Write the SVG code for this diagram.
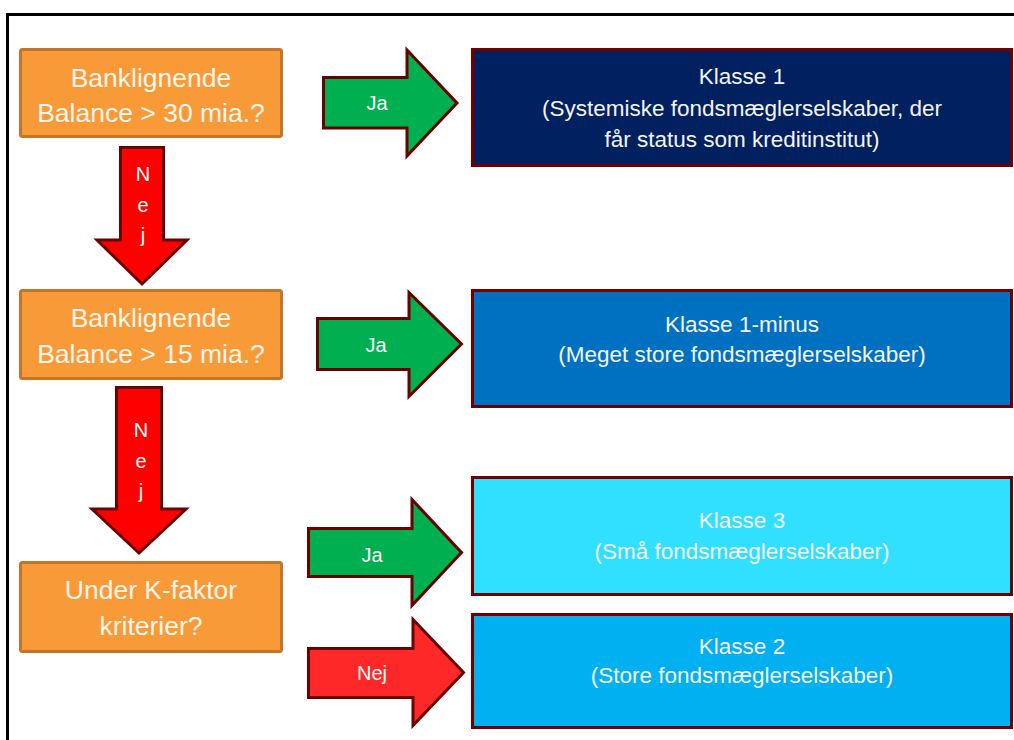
<svg xmlns="http://www.w3.org/2000/svg" width="1014" height="740" viewBox="0 0 1014 740">
<style>
.q{fill:#F99A38;stroke:#C2762C;stroke-width:3}
.qt{font-family:"Liberation Sans",Arial,sans-serif;font-size:26.5px;fill:#FFF6EC;text-anchor:middle}
.k{stroke:#700000;stroke-width:3}
.kt{font-family:"Liberation Sans",Arial,sans-serif;font-size:22.5px;fill:#F4F4F4;text-anchor:middle}
.ar{stroke:#6B0000;stroke-width:3;stroke-linejoin:miter}
.at{font-family:"Liberation Sans",Arial,sans-serif;font-size:20px;fill:#FFFFFF;text-anchor:middle}
</style>
<rect x="0" y="0" width="1014" height="740" fill="#FFFFFF"/>
<path d="M7.5 740 V14.5 H1014" fill="none" stroke="#000000" stroke-width="3"/>

<g id="q1">
<rect class="q" x="20.5" y="49.5" width="261" height="87" rx="2"/>
<text class="qt" x="151" y="87">Banklignende</text>
<text class="qt" x="151" y="122">Balance &gt; 30 mia.?</text>
</g>
<g id="q2">
<rect class="q" x="20.5" y="290.5" width="261" height="88" rx="2"/>
<text class="qt" x="151" y="327">Banklignende</text>
<text class="qt" x="151" y="363">Balance &gt; 15 mia.?</text>
</g>
<g id="q3">
<rect class="q" x="20.5" y="562.5" width="261" height="89" rx="2"/>
<text class="qt" x="151" y="599">Under K-faktor</text>
<text class="qt" x="151" y="635">kriterier?</text>
</g>

<g id="k1">
<rect class="k" x="472.5" y="49.5" width="539" height="116" fill="#002060"/>
<text class="kt" x="742" y="84">Klasse 1</text>
<text class="kt" x="742" y="116">(Systemiske fondsmæglerselskaber, der</text>
<text class="kt" x="742" y="147">får status som kreditinstitut)</text>
</g>
<g id="k1minus">
<rect class="k" x="472.5" y="290.5" width="539" height="116" fill="#0070C0"/>
<text class="kt" x="742" y="332">Klasse 1-minus</text>
<text class="kt" x="742" y="362">(Meget store fondsmæglerselskaber)</text>
</g>
<g id="k3">
<rect class="k" x="472.5" y="477.5" width="539" height="117" fill="#31DFFF"/>
<text class="kt" x="742" y="528">Klasse 3</text>
<text class="kt" x="742" y="559">(Små fondsmæglerselskaber)</text>
</g>
<g id="k2">
<rect class="k" x="472.5" y="614.5" width="539" height="113" fill="#00B0F0"/>
<text class="kt" x="742" y="654">Klasse 2</text>
<text class="kt" x="742" y="683">(Store fondsmæglerselskaber)</text>
</g>

<g id="connectors">
<g id="ja1">
<polygon class="ar" fill="#00B050" points="323.5,77.5 407,77.5 407,50 457,103 407,156 407,128 323.5,128"/>
<text class="at" x="377" y="110">Ja</text>
</g>
<g id="ja2">
<polygon class="ar" fill="#00B050" points="317.5,318.5 409,318.5 409,292.5 461.5,344 409,396.5 409,369.5 317.5,369.5"/>
<text class="at" x="376" y="352">Ja</text>
</g>
<g id="ja3">
<polygon class="ar" fill="#00B050" points="308.5,528.5 412,528.5 412,499.5 461.5,552.5 412,605.5 412,576.5 308.5,576.5"/>
<text class="at" x="372" y="562">Ja</text>
</g>
<g id="nej3">
<polygon class="ar" fill="#FF2828" points="308.5,648.5 413,648.5 413,619.5 463.5,672.5 413,725.5 413,697.5 308.5,697.5"/>
<text class="at" x="372" y="680">Nej</text>
</g>
<g id="nej1">
<polygon class="ar" fill="#FF0000" points="120.5,147.5 163.5,147.5 163.5,240 187,240 142,284 97,240 120.5,240"/>
<text class="at" x="143" y="181">N</text>
<text class="at" x="143" y="212">e</text>
<text class="at" x="143" y="242">j</text>
</g>
<g id="nej2">
<polygon class="ar" fill="#FF0000" points="116.5,387.5 161.5,387.5 161.5,509 186,509 139,553 92,509 116.5,509"/>
<text class="at" x="141" y="437">N</text>
<text class="at" x="141" y="468">e</text>
<text class="at" x="141" y="498">j</text>
</g>
</g>
</svg>
